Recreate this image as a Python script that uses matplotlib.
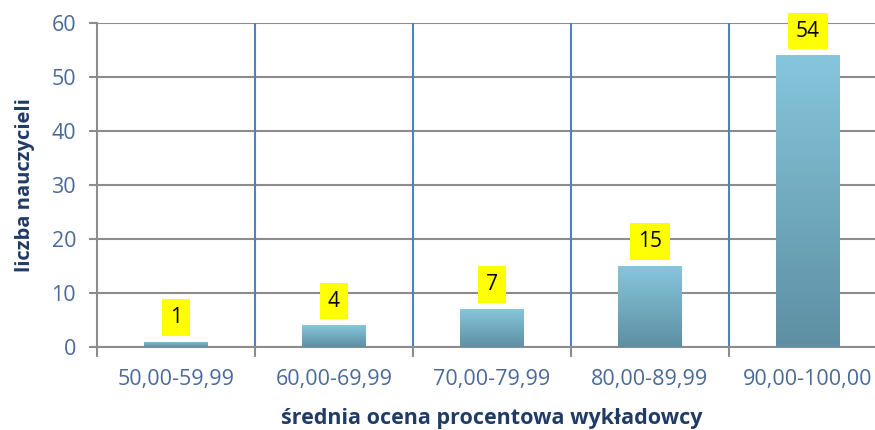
import numpy as np
import matplotlib.pyplot as plt
from matplotlib.colors import LinearSegmentedColormap

categories = ['50,00-59,99', '60,00-69,99', '70,00-79,99', '80,00-89,99', '90,00-100,00']
counts = [1, 4, 7, 15, 54]
yticks = [0, 10, 20, 30, 40, 50, 60]

tick_col = '#4A6A9A'
title_col = '#1F3B66'
grid_col = '#8C8C8C'
sep_col = '#4F81BD'

plt.rcParams['font.family'] = ['Open Sans', 'DejaVu Sans']

fig = plt.figure(figsize=(8.75, 4.3), dpi=100)
ax = fig.add_axes([97 / 875, 83 / 430, 790 / 875, 324 / 430])

x = np.arange(len(categories))
bars = ax.bar(x, counts, width=0.4, color='#7BB6CC', zorder=3)

# vertical gradient in each bar
grad_cmap = LinearSegmentedColormap.from_list('g', ['#5E8FA2', '#86C6DD'])
grad = np.linspace(0, 1, 256).reshape(-1, 1)
for b in bars:
    x0, y0 = b.get_x(), b.get_y()
    im = ax.imshow(grad, cmap=grad_cmap, aspect='auto', origin='lower',
                   extent=[x0, x0 + b.get_width(), y0, y0 + b.get_height()], zorder=3)
    im.set_clip_path(b)

for xi, v in zip(x, counts):
    ax.annotate(str(v), (xi, v), xytext=(0, 10), textcoords='offset points',
                ha='center', va='bottom', fontsize=15, color='black', zorder=5,
                bbox=dict(boxstyle='square,pad=0.38', fc='#FFFF00', ec='none'))

ax.set_xlim(-0.5, len(categories) - 0.5)
ax.set_ylim(0, 60)
ax.set_yticks(yticks)
ax.yaxis.grid(True, color=grid_col, lw=1.5, zorder=1)
ax.set_axisbelow(True)

for b in np.arange(0.5, len(categories) - 0.5, 1.0):
    ax.axvline(b, color=sep_col, lw=1.5, zorder=2)

ax.set_xticks(x)
ax.set_xticklabels(categories)
ax.set_xticks(np.arange(-0.5, len(categories), 1.0), minor=True)
ax.tick_params(axis='x', which='major', length=0, pad=16, labelsize=15.5, labelcolor=tick_col)
ax.tick_params(axis='x', which='minor', length=7, width=1.5, color=grid_col, direction='out')
ax.tick_params(axis='y', length=6, width=1.5, color=grid_col, labelsize=15.5, labelcolor=tick_col, pad=9)

for s in ['top', 'right']:
    ax.spines[s].set_visible(False)
ax.spines['left'].set_color(grid_col)
ax.spines['left'].set_linewidth(1.5)
ax.spines['bottom'].set_color(grid_col)
ax.spines['bottom'].set_linewidth(1.5)

ax.set_ylabel('liczba nauczycieli', fontsize=14.5, fontweight='bold', color=title_col, labelpad=12)
ax.set_xlabel('średnia ocena procentowa wykładowcy', fontsize=15.5, fontweight='bold', color=title_col, labelpad=13)

fig.savefig('out.png', dpi=100)
